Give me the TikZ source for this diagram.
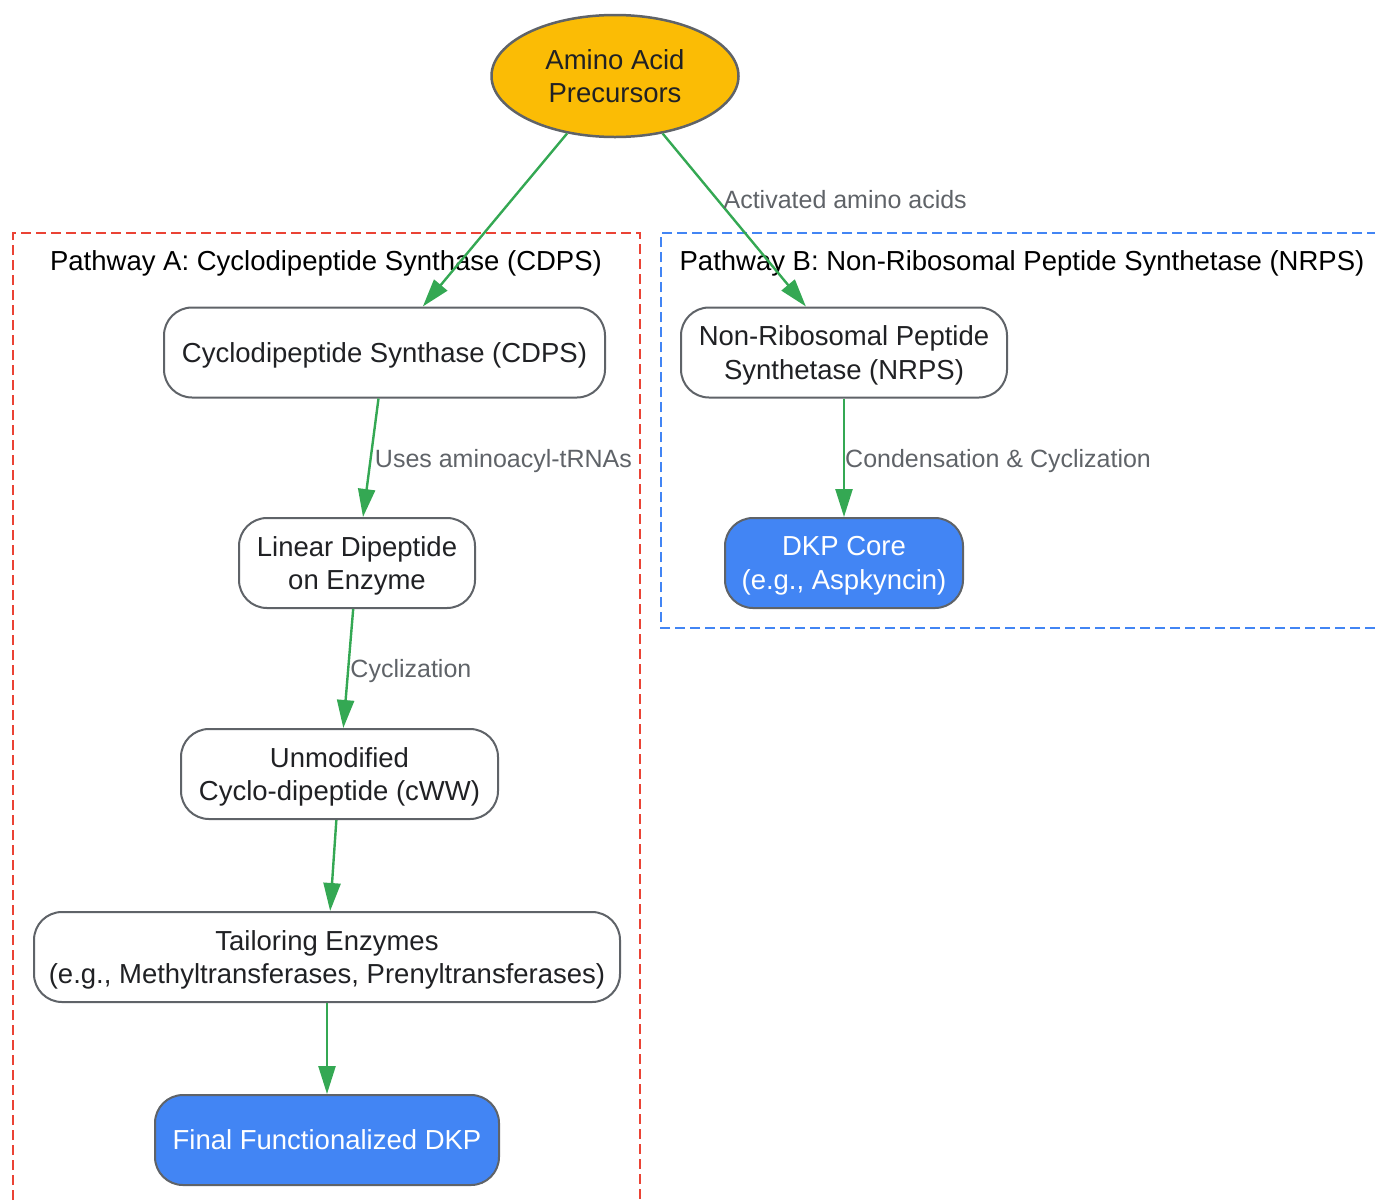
\documentclass[tikz,border=0pt]{standalone}
\usepackage{fontspec}
\setmainfont{Liberation Sans}
\usepackage{tikz}
\usetikzlibrary{arrows.meta, shapes.geometric}
\definecolor{flowgreen}{HTML}{34A853}
\definecolor{pathred}{HTML}{EA4335}
\definecolor{pathblue}{HTML}{4285F4}
\definecolor{dkpblue}{HTML}{4285F4}
\definecolor{aayellow}{HTML}{FBBC05}
\definecolor{edgegray}{HTML}{5F6368}
\definecolor{lblgray}{HTML}{5F6368}
\definecolor{boxtext}{HTML}{202124}
\newcommand{\boxfont}{\fontsize{27.5}{33.5}\selectfont}
\newcommand{\lblfont}{\fontsize{25}{30}\selectfont}
\tikzset{box/.style={draw=edgegray, line width=2pt, rounded corners=28pt, fill=white, text=boxtext, minimum height=90pt, inner sep=0pt, text depth=0pt, align=center, font=\boxfont}, product/.style={box, fill=dkpblue, text=white}, source/.style={ellipse, draw=edgegray, line width=2.5pt, fill=aayellow, text=boxtext, minimum width=247pt, minimum height=122pt, inner sep=0pt, text depth=0pt, align=center, font=\boxfont}, flow/.style={color=flowgreen, line width=2.4pt, -{Triangle[length=28pt, width=17pt]}}, lbl/.style={anchor=west, text=lblgray, font=\lblfont, inner sep=1pt}, title/.style={text=black, font=\boxfont, inner sep=0pt, text depth=0pt}, clusterA/.style={draw=pathred, line width=2pt, dash pattern=on 10pt off 5pt}, clusterB/.style={draw=pathblue, line width=2pt, dash pattern=on 10pt off 5pt}}

\begin{document}
\begin{tikzpicture}[x=1pt, y=-1pt]
    \useasboundingbox (0, 0) rectangle (1375, 1200);
    \draw[clusterA] (13, 1215) -- (13, 233) -- (640, 233) -- (640, 1215);
    \draw[clusterB] (1390, 628) -- (661, 628) -- (661, 233) -- (1390, 233);
    \node[title] (ta) at (326, 261) {Pathway A: Cyclodipeptide Synthase (CDPS)};
    \node[title] (tb) at (1022, 261) {Pathway B: Non-Ribosomal Peptide Synthetase (NRPS)};
    \node[source] (0) at (615, 76) {Amino Acid\\Precursors};
    \node[box, minimum width=441pt] (1) at (384.5, 352.5) {Cyclodipeptide Synthase (CDPS)};
    \node[box, minimum width=326pt] (2) at (844, 352.5) {Non-Ribosomal Peptide\\Synthetase (NRPS)};
    \node[box, minimum width=236pt] (3) at (357, 563) {Linear Dipeptide\\on Enzyme};
    \node[product, minimum width=238pt] (4) at (844, 563) {DKP Core\\(e.g., Aspkyncin)};
    \node[box, minimum width=317pt] (5) at (339.5, 774) {Unmodified\\Cyclo-dipeptide (cWW)};
    \node[box, minimum width=586pt] (6) at (327, 957) {Tailoring Enzymes\\(e.g., Methyltransferases, Prenyltransferases)};
    \node[product, minimum width=344pt] (7) at (327, 1140) {Final Functionalized DKP};
    \path[flow]
    	(0) edge (1)
    	(0) edge node[lbl, pos=0.382, xshift=4pt] {Activated amino acids} (2)
    	(1) edge node[lbl, pos=0.5, xshift=2pt, yshift=-3pt] {Uses aminoacyl-tRNAs} (3)
    	(3) edge node[lbl, pos=0.5, yshift=-3pt] {Cyclization} (5)
    	(2) edge node[lbl, pos=0.5, xshift=-1pt, yshift=-3pt] {Condensation \& Cyclization} (4)
    	(5) edge (6)
    	(6) edge (7)
    	;
\end{tikzpicture}
\end{document}
